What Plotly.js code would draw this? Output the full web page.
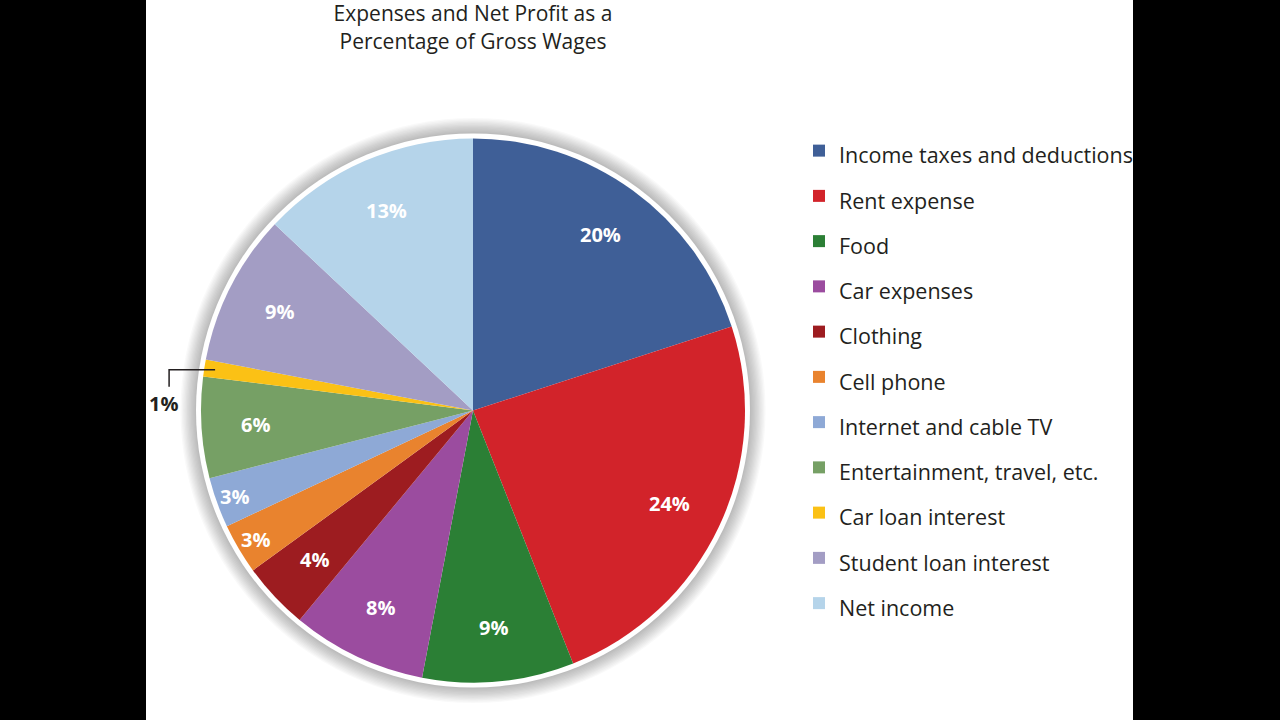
<!DOCTYPE html>
<html>
<head>
<meta charset="utf-8">
<script src="https://cdn.plot.ly/plotly-3.0.1.min.js"></script>
<style>
  html, body { margin: 0; padding: 0; background: #000; }
  #wrap { position: absolute; left: 146px; top: 0; width: 987px; height: 720px; overflow: hidden; background: #fff; }
  #chart { width: 987px; height: 720px; }
</style>
</head>
<body>
<div id="wrap"><div id="chart"></div></div>
<script>
// data
const categories = [
  'Income taxes and deductions',
  'Rent expense',
  'Food',
  'Car expenses',
  'Clothing',
  'Cell phone',
  'Internet and cable TV',
  'Entertainment, travel, etc.',
  'Car loan interest',
  'Student loan interest',
  'Net income'
];
const percents = [20, 24, 9, 8, 4, 3, 3, 6, 1, 9, 13];
const sliceColors = [
  '#3f5f97', '#d2232a', '#2b7f35', '#9b4c9f', '#9d1c20', '#e9832e',
  '#8ea9d6', '#76a065', '#fbc115', '#a39dc4', '#b5d4ea'
];
const chartTitle = 'Expenses and Net Profit as a<br>Percentage of Gross Wages';

(function () {
  const W = 987, H = 720;
  const cx = 327, cy = 410.5, R = 272; // pie centre / radius in px
  const fontFam = '"Open Sans", "Noto Sans", sans-serif';
  const textColor = '#231f20';

  const px = function (x) { return x / W; };
  const py = function (y) { return 1 - y / H; };

  // soft shadow + white ring behind the pie
  const shapes = [];
  for (let k = 12; k >= 1; k--) {
    const r = R + 5 + k * 1.3;
    shapes.push({
      type: 'circle', xref: 'paper', yref: 'paper', layer: 'below',
      x0: px(cx - r), x1: px(cx + r), y0: py(cy + r), y1: py(cy - r),
      fillcolor: 'rgba(0,0,0,0.022)', line: {width: 0}
    });
  }
  shapes.push({
    type: 'circle', xref: 'paper', yref: 'paper', layer: 'below',
    x0: px(cx - R - 5), x1: px(cx + R + 5), y0: py(cy + R + 5), y1: py(cy - R - 5),
    fillcolor: '#ffffff', line: {width: 0}
  });

  // percentage labels at the slice mid angles
  const total = percents.reduce(function (a, b) { return a + b; }, 0);
  const annotations = [];
  let cum = 0;
  percents.forEach(function (v) {
    const mid = (cum + v / 2) / total * 2 * Math.PI;
    cum += v;
    if (v < 2) {
      // small slice: label outside with an elbow leader
      const sx = cx + 0.96 * R * Math.sin(mid);
      const sy = cy - 0.96 * R * Math.cos(mid);
      const ex = sx - 46, ey = sy + 17;
      shapes.push({
        type: 'path', xref: 'paper', yref: 'paper', layer: 'above',
        path: 'M' + px(sx) + ',' + py(sy) + ' L' + px(ex) + ',' + py(sy) + ' L' + px(ex) + ',' + py(ey),
        line: {color: textColor, width: 1.5}
      });
      annotations.push({
        xref: 'paper', yref: 'paper', x: px(ex - 6), y: py(ey + 17),
        xanchor: 'center', yanchor: 'middle',
        text: '<b>' + v + '%</b>', showarrow: false,
        font: {family: fontFam, size: 20, color: textColor}
      });
      return;
    }
    const rf = v < 4 ? 0.93 : 0.8;
    annotations.push({
      xref: 'paper', yref: 'paper',
      x: px(cx + rf * R * Math.sin(mid)), y: py(cy - rf * R * Math.cos(mid)),
      xanchor: 'center', yanchor: 'middle',
      text: '<b>' + v + '%</b>', showarrow: false,
      font: {family: fontFam, size: 20, color: '#ffffff'}
    });
  });

  const trace = {
    type: 'pie',
    labels: categories.map(function (c) { return '<span style="font-size:21.5px">' + c + '</span>'; }),
    values: percents,
    sort: false,
    direction: 'clockwise',
    rotation: 0,
    textinfo: 'none',
    hoverinfo: 'label+percent',
    marker: {colors: sliceColors, line: {width: 0}},
    domain: {x: [px(cx - R), px(cx + R)], y: [py(cy + R), py(cy - R)]}
  };

  const layout = {
    width: W,
    height: H,
    margin: {l: 0, r: 0, t: 0, b: 0, autoexpand: false},
    paper_bgcolor: '#ffffff',
    title: {
      text: chartTitle,
      font: {family: fontFam, size: 21, color: textColor},
      x: px(cx), xref: 'paper', xanchor: 'center',
      y: 0.9705, yref: 'container', yanchor: 'top'
    },
    showlegend: true,
    legend: {
      x: px(653), xanchor: 'left',
      y: py(123), yanchor: 'top',
      font: {family: fontFam, size: 32.5, color: textColor},
      bgcolor: 'rgba(0,0,0,0)', borderwidth: 0
    },
    shapes: shapes,
    annotations: annotations
  };

  Plotly.newPlot('chart', [trace], layout, {displayModeBar: false, staticPlot: true});
})();
</script>
</body>
</html>
